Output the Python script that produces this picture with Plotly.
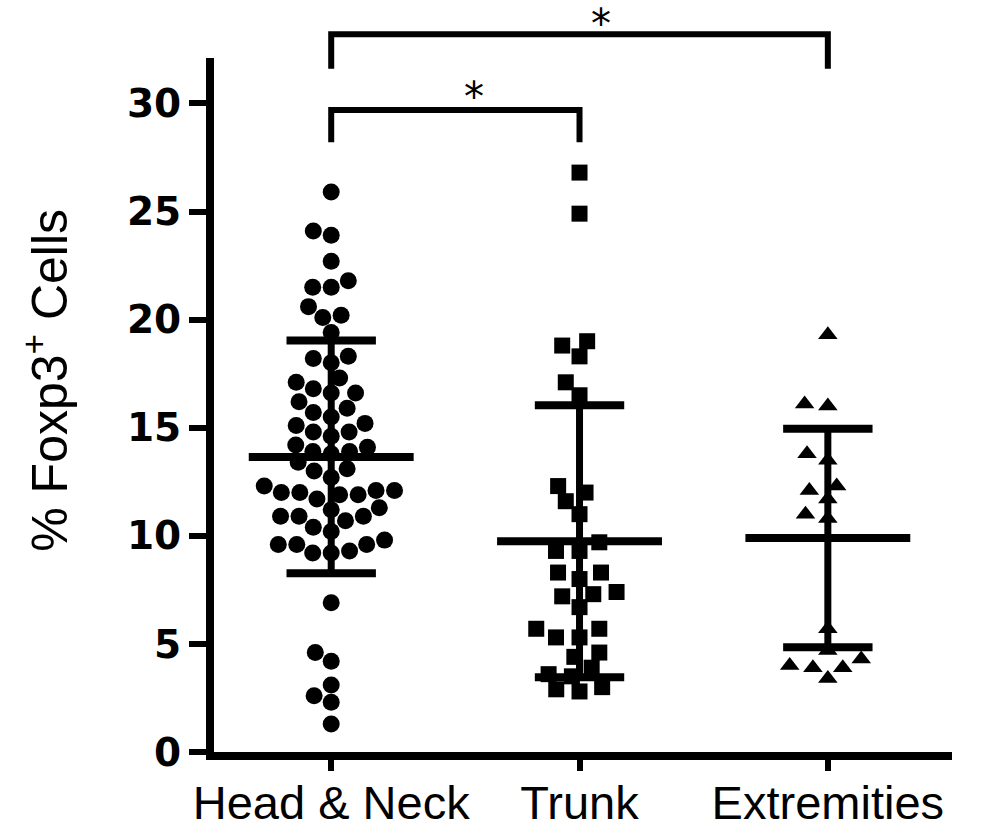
import math
import plotly.graph_objects as go

# ---------------- data ----------------
cat_labels = ["Head & Neck", "Trunk", "Extremities"]

head_neck = [25.9, 24.1, 23.9, 22.7, 21.8, 21.5, 21.5, 20.6, 20.2, 20.1, 19.4,
             18.2, 18.3, 18.0, 17.3, 17.1, 16.8, 16.6, 16.6, 16.2, 15.9, 15.5,
             15.7, 15.2, 14.8, 14.6, 14.8, 15.1, 14.1, 14.2, 13.9, 13.8, 13.9,
             13.4, 13.1, 13.0, 12.7, 12.1, 12.0, 11.9, 11.7, 11.9, 12.0, 12.1,
             12.3, 11.3, 11.2, 10.9, 10.7, 10.4, 10.9, 10.9, 10.2, 9.8, 9.6,
             9.3, 9.2, 9.2, 9.6, 9.6, 6.9, 4.6, 4.2, 3.1, 2.6, 2.3, 1.3]
trunk = [26.8, 24.9, 19.0, 18.8, 18.3, 17.1, 16.5, 12.3, 12.0, 11.6, 11.0,
         9.7, 9.3, 9.3, 8.3, 8.3, 8.0, 7.4, 7.3, 7.2, 6.7, 5.7, 5.7, 5.3,
         5.3, 4.4, 4.6, 3.6, 3.5, 3.9, 3.0, 2.9, 2.8]
extremities = [19.3, 16.0, 16.1, 13.8, 13.5, 12.3, 12.1, 11.7, 10.8, 11.0,
               5.7, 4.7, 4.3, 3.9, 3.4, 3.9, 4.0]

means = [13.65, 9.75, 9.9]
sds = [5.38, 6.29, 5.05]

y_ticks = [0, 5, 10, 15, 20, 25, 30]
y_title = "% Foxp3<sup>+</sup> Cells"

# significance brackets
brackets_from = [0, 0]
brackets_to = [2, 1]
bracket_top = [33.2, 29.7]
bracket_leg = [31.6, 28.2]
star_x = [1.085, 0.575]
star_top = [34.76, 31.4]   # top of the star's text box, in y units

# ---------------- layout geometry ----------------
W, H = 989, 835
ML, MR, MT, MB = 214, 37, 58, 83
Y_MAX = 32.1
X_RANGE = [-0.472, 2.5]
plot_w = W - ML - MR
plot_h = H - MT - MB
px_x = plot_w / (X_RANGE[1] - X_RANGE[0])
px_y = plot_h / Y_MAX


def beeswarm(vals, dx_min, dy_min):
    """Place points as close to the centre as possible without overlap
    (elliptical exclusion zone: dx_min across, dy_min vertically)."""
    order = sorted(range(len(vals)), key=lambda i: vals[i])
    placed = []
    offs = [0.0] * len(vals)
    for i in order:
        y = vals[i] * px_y
        forb = []
        for xj, yj in placed:
            dy = abs(y - yj)
            if dy < dy_min:
                half = dx_min * math.sqrt(1 - (dy / dy_min) ** 2)
                forb.append((xj - half, xj + half))
        cands = [0.0] + [a for a, b in forb] + [b for a, b in forb]
        cands.sort(key=lambda c: (abs(c), c))
        x = 0.0
        for c in cands:
            if all(not (a + 1e-6 < c < b - 1e-6) for a, b in forb):
                x = c
                break
        placed.append((x, y))
        offs[i] = x / px_x
    return offs


groups = [head_neck, trunk, extremities]
symbols = ["circle", "square", "triangle-up"]
msizes = [17, 16, 17]
swarm_dx = [18.5, 23.5, 23.5]
swarm_dy = [17, 16, 14]

fig = go.Figure()

# mean +/- SD lines
for i, (m, s) in enumerate(zip(means, sds)):
    line = dict(color="black", width=8)
    fig.add_trace(go.Scatter(x=[i - 0.332, i + 0.332], y=[m, m], mode="lines",
                             line=line, showlegend=False, hoverinfo="skip"))
    for v in (m + s, m - s):
        fig.add_trace(go.Scatter(x=[i - 0.18, i + 0.18], y=[v, v], mode="lines",
                                 line=line, showlegend=False, hoverinfo="skip"))
    fig.add_trace(go.Scatter(x=[i, i], y=[m - s, m + s], mode="lines",
                             line=dict(color="black", width=7),
                             showlegend=False, hoverinfo="skip"))

# points
for i, vals in enumerate(groups):
    offs = beeswarm(vals, swarm_dx[i], swarm_dy[i])
    fig.add_trace(go.Scatter(
        x=[i + o for o in offs], y=vals, mode="markers",
        marker=dict(symbol=symbols[i], size=msizes[i], color="black",
                    line=dict(width=0)),
        name=cat_labels[i], showlegend=False, cliponaxis=False))

# brackets (above the plotting area)
for a, b, top, leg in zip(brackets_from, brackets_to, bracket_top, bracket_leg):
    pt, pl = top / Y_MAX, leg / Y_MAX
    fig.add_shape(type="path", xref="x", yref="paper",
                  path=f"M {a},{pl} L {a},{pt} L {b},{pt} L {b},{pl}",
                  line=dict(color="black", width=6))

for sx, sy in zip(star_x, star_top):
    fig.add_annotation(x=sx, y=sy / Y_MAX, xref="x", yref="paper", text="*",
                       showarrow=False, yanchor="top", borderpad=0,
                       font=dict(family="DejaVu Sans", size=40,
                                 color="black"))

# y-axis title (as a rotated annotation so it can sit where the reference has it)
fig.add_annotation(x=-0.228, y=0.536, xref="paper", yref="paper",
                   text=y_title, textangle=-90, showarrow=False,
                   xanchor="center", yanchor="middle",
                   font=dict(family="Liberation Sans, Arial", size=50,
                             color="black"))

fig.update_layout(
    width=W, height=H,
    margin=dict(l=ML, r=MR, t=MT, b=MB, autoexpand=False),
    paper_bgcolor="white", plot_bgcolor="white",
    showlegend=False,
    xaxis=dict(
        range=X_RANGE, tickmode="array", tickvals=[0, 1, 2],
        ticktext=cat_labels, showgrid=False, zeroline=False, automargin=False,
        showline=True, linewidth=8, linecolor="black",
        ticks="outside", ticklen=11, tickwidth=6, tickcolor="black",
        ticklabelstandoff=-8,
        tickfont=dict(family="Liberation Sans, Arial", size=47, color="black"),
    ),
    yaxis=dict(
        range=[0, Y_MAX], tickmode="array", tickvals=y_ticks,
        showgrid=False, zeroline=False, automargin=False,
        showline=True, linewidth=8, linecolor="black",
        ticks="outside", ticklen=17, tickwidth=6, tickcolor="black",
        tickfont=dict(family="DejaVu Sans", size=39, color="black",
                      weight="bold"),
    ),
)

fig.write_html("out.html",
               config={"displayModeBar": False},
               post_script="document.body.style.margin='0px';")
